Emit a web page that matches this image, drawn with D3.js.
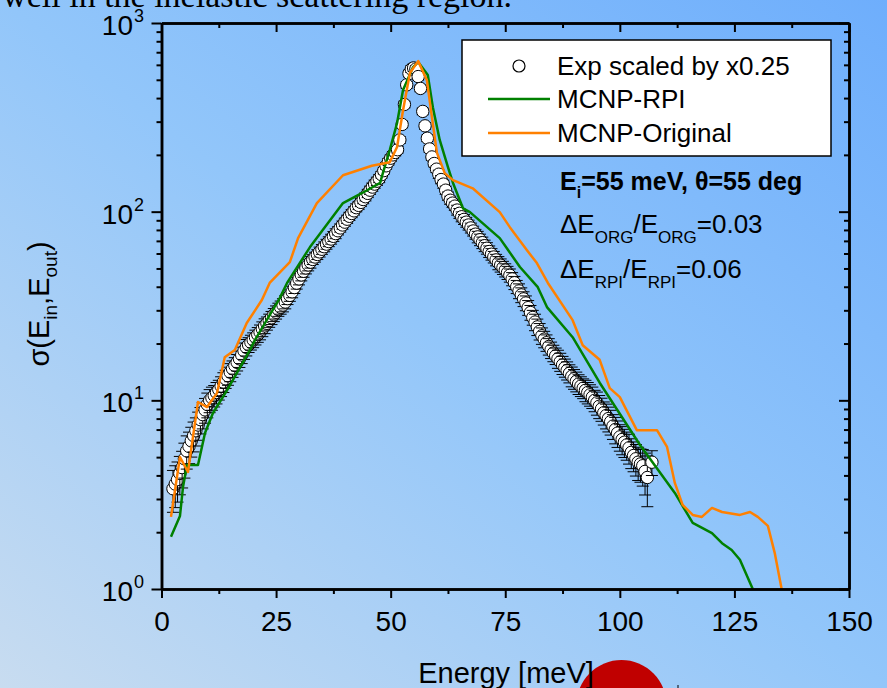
<!DOCTYPE html>
<html><head><meta charset="utf-8">
<script src="https://cdn.jsdelivr.net/npm/d3@7"></script>
<style>body{margin:0;overflow:hidden;background:#fff}</style>
</head><body>
<svg id="c" width="887" height="688"></svg>
<script>
// ---- data ----
const expE = [
 2.5,3,3.5,4,4.5,5,5.5,6,6.5,7,
 7.5,8,8.5,9,9.5,10,10.5,11,11.5,12,
 12.5,13,13.5,14,14.5,15,15.5,16,16.5,17,
 17.5,18,18.5,19,19.5,20,20.5,21,21.5,22,
 22.5,23,23.5,24,24.5,25,25.5,26,26.5,27,
 27.5,28,28.5,29,29.5,30,30.5,31,31.5,32,
 32.5,33,33.5,34,34.5,35,35.5,36,36.5,37,
 37.5,38,38.5,39,39.5,40,40.5,41,41.5,42,
 42.5,43,43.5,44,44.5,45,45.5,46,46.5,47,
 47.5,48,48.5,49,49.5,50,50.5,51,51.5,52,
 52.5,53,53.5,54,54.5,55,55.5,56,56.5,57,
 57.5,58,58.5,59,59.5,60,60.5,61,61.5,62,
 62.5,63,63.5,64,64.5,65,65.5,66,66.5,67,
 67.5,68,68.5,69,69.5,70,70.5,71,71.5,72,
 72.5,73,73.5,74,74.5,75,75.5,76,76.5,77,
 77.5,78,78.5,79,79.5,80,80.5,81,81.5,82,
 82.5,83,83.5,84,84.5,85,85.5,86,86.5,87,
 87.5,88,88.5,89,89.5,90,90.5,91,91.5,92,
 92.5,93,93.5,94,94.5,95,95.5,96,96.5,97,
 97.5,98,98.5,99,99.5,100,100.5,101,101.5,102,
 102.5,103,103.5,104,104.5,105,105.5,106,107];
const expV = [
 3.4,3.6,3.8,4.1,4.4,4.9,5.4,5.7,6.1,6.5,
 6.9,7.4,7.9,8.4,8.9,9.5,10.0,10.3,10.6,11.0,
 11.4,11.9,12.5,13.0,13.5,14.1,14.7,15.3,15.9,16.6,
 17.4,18.3,19.1,19.7,20.3,20.9,21.6,22.3,23.0,23.9,
 24.8,25.6,26.5,27.4,28.4,29.3,30.3,31.1,32.0,33.2,
 34.6,36.0,37.6,39.6,41.8,44.0,46.2,48.3,50.3,52.2,
 54.0,55.8,57.5,59.3,61.2,63.2,65.2,67.3,69.4,71.6,
 74.0,76.5,79.2,82.0,85.0,88.0,91.2,94.5,97.8,101,
 105,108,112,116,120,125,130,135,140,145,
 150,157,165,175,184,192,200,206,213,240,
 290,370,470,540,570,578,570,520,450,340,
 285,245,215,195,180,168,158,148,140,130,
 121,115,111,107,102,98,94,91,88,85,
 82,79,76,73.5,71,68.5,66,64,61.5,59.5,
 57.5,55.5,53.5,52,50.5,49,47.5,46,44,42,
 40,38,36.2,34.5,32.8,31,29.2,27.5,26,24.5,
 23.2,22.0,21.1,20.2,19.3,18.5,17.8,17.2,16.6,16.0,
 15.4,14.9,14.4,13.9,13.4,13.0,12.6,12.2,11.9,11.6,
 11.3,11.0,10.7,10.4,10.0,9.7,9.3,9.0,8.6,8.3,
 8.0,7.7,7.3,7.0,6.7,6.4,6.2,6.0,5.8,5.6,
 5.3,5.1,4.9,4.7,4.6,4.5,4.2,3.9,4.7];
const expErr = [
 .25,.25,.24,.23,.22,.21,.2,.19,.18,.18,
 .17,.17,.16,.16,.15,.15,.14,.14,.13,.13,
 .12,.12,.12,.11,.11,.11,.1,.1,.1,.1,
 .1,.1,.1,.09,.09,.09,.09,.09,.09,.09,
 .09,.08,.08,.08,.08,.08,.08,.08,.08,.08,
 .07,.07,.07,.07,.07,.07,.07,.07,.07,.07,
 .07,.06,.06,.06,.06,.06,.06,.06,.06,.06,
 .06,.06,.05,.05,.05,.05,.05,.05,.05,.05,
 .05,.05,.05,.05,.05,.05,.05,.05,.05,.05,
 .05,.04,.04,.04,.04,.04,.04,.04,.04,.04,
 .04,.04,.04,.04,.04,.04,.04,.04,.04,.04,
 .04,.04,.04,.04,.04,.04,.05,.05,.05,.05,
 .05,.05,.05,.05,.06,.06,.06,.06,.06,.06,
 .06,.06,.06,.07,.07,.07,.07,.07,.07,.07,
 .07,.07,.08,.08,.08,.08,.08,.08,.08,.08,
 .08,.09,.09,.09,.09,.09,.09,.09,.1,.1,
 .1,.1,.1,.1,.1,.1,.1,.1,.11,.11,
 .11,.11,.11,.11,.12,.12,.12,.12,.12,.12,
 .13,.13,.13,.13,.13,.14,.14,.14,.14,.15,
 .15,.15,.15,.16,.16,.16,.17,.17,.17,.18,
 .18,.18,.19,.2,.2,.22,.25,.3,.15];

const rpiE = [2.07,4.03,4.69,5.56,7.96,9.49,11.23,14.29,19.3,20.4,25.8,27.4,32.4,39.6,43.9,47.7,48.3,49.8,51.4,52.7,54.9,56.0,58.1,59.2,60.7,62.5,63.6,65.8,67.3,73.8,78.2,82.1,84.1,89.7,95.6,104.4,112.0,115.9,120.1,122.3,124.4,126.2,129.0];
const rpiV = [1.89,2.44,3.47,4.54,4.54,6.71,8.57,11.3,18.5,20.9,34.8,41.9,64.9,111,126,142,160,212,295,441,584,621,530,358,240,172,142,104,99.5,72.4,50.9,39.8,31.2,21.6,12.4,5.8,3.23,2.24,1.98,1.75,1.61,1.43,1.0];

const orgE = [2.07,4.03,5.78,7.96,9.92,12.1,13.8,16.0,18.6,21.9,23.6,28.0,29.8,33.9,39.6,45.9,49.8,51.4,52.7,54.2,56.0,57.9,59.0,60.1,61.8,63.6,67.9,73.8,76.0,79.7,81.9,84.3,89.7,91.9,95.6,97.8,100.0,103.7,108.1,110.3,112.0,113.7,115.9,117.9,120.1,122.3,126.2,128.4,130.1,132.3,133.8,135.3];
const orgV = [2.41,5.01,4.17,9.8,9.21,10.9,16.9,18.5,25.7,34,41.9,54,72.4,111,156,175,183,220,345,543,628,498,317,205,160,147,133,99.5,82.8,62.6,53.4,41.9,26.6,19.6,16.4,11.6,10.4,6.95,6.95,5.66,3.65,2.79,2.47,2.41,2.69,2.56,2.47,2.56,2.41,2.16,1.55,1.0];

const xMajor = [0,25,50,75,100,125,150];
const xMinor = [12.5,37.5,62.5,87.5,112.5,137.5];
const yMajor = [1,10,100,1000];
const yMinor = [2,3,4,5,6,7,8,9,20,30,40,50,60,70,80,90,200,300,400,500,600,700,800,900];
const legendLabels = ["Exp scaled by x0.25","MCNP-RPI","MCNP-Original"];
const seriesColors = {rpi:"#008000", org:"#ff8000"};

// ---- drawing ----
const W = 887, H = 688;
const svg = d3.select("#c");
const FONT = "'Liberation Sans', Arial, sans-serif";
const defs = svg.append("defs");
const grad = defs.append("linearGradient").attr("id","bg")
  .attr("x1","0").attr("y1","1").attr("x2","1").attr("y2","0");
grad.append("stop").attr("offset","0").attr("stop-color","#c8dcf0");
grad.append("stop").attr("offset","0.5").attr("stop-color","#92c6fa");
grad.append("stop").attr("offset","1").attr("stop-color","#6eaefc");
svg.append("rect").attr("width",W).attr("height",H).attr("fill","url(#bg)");

// cut-off text at top
svg.append("text").attr("x",512).attr("y",7).attr("text-anchor","end")
  .attr("font-family","'Liberation Serif', 'Times New Roman', serif").attr("font-size",34)
  .attr("fill","#000").text("well in the inelastic scattering region.");

const x = d3.scaleLinear().domain([0,150]).range([161.5,849]);
const y = d3.scaleLog().domain([1,1000]).range([589,23]);

defs.append("clipPath").attr("id","plot").append("rect")
  .attr("x",x(0)).attr("y",y(1000)).attr("width",x(150)-x(0)).attr("height",y(1)-y(1000));

const plot = svg.append("g").attr("clip-path","url(#plot)");

// experimental points with error bars (interleaved)
const expG = plot.append("g");
expE.forEach((e,i)=>{
  const v = expV[i], er = expErr[i];
  const cx = x(e), y0 = y(v*(1-er)), y1 = y(v*(1+er));
  const pg = expG.append("g").attr("stroke","#000").attr("stroke-width",1);
  pg.append("line").attr("x1",cx).attr("x2",cx).attr("y1",y0).attr("y2",y1);
  pg.append("line").attr("x1",cx-6).attr("x2",cx+6).attr("y1",y0).attr("y2",y0);
  pg.append("line").attr("x1",cx-6).attr("x2",cx+6).attr("y1",y1).attr("y2",y1);
  pg.append("circle").attr("cx",cx).attr("cy",y(v)).attr("r",6.2)
    .attr("fill","#fff").attr("stroke","#000").attr("stroke-width",1);
});

const line = d3.line().x(d=>x(d[0])).y(d=>y(d[1]));
plot.append("path").datum(rpiE.map((e,i)=>[e,rpiV[i]])).attr("d",line)
  .attr("fill","none").attr("stroke",seriesColors.rpi).attr("stroke-width",2.5).attr("stroke-linejoin","round");
plot.append("path").datum(orgE.map((e,i)=>[e,orgV[i]])).attr("d",line)
  .attr("fill","none").attr("stroke",seriesColors.org).attr("stroke-width",2.5).attr("stroke-linejoin","round");

// axes
function styleAxis(g){
  g.select(".domain").attr("stroke","#000").attr("stroke-width",2.5);
  g.selectAll(".tick line").attr("stroke","#000").attr("stroke-width",2);
  g.selectAll("text").attr("font-family",FONT).attr("font-size",28).attr("fill","#000");
}
svg.append("g").attr("transform",`translate(0,${y(1)})`)
  .call(d3.axisBottom(x).tickValues(xMinor).tickSize(5).tickSizeOuter(0).tickFormat(""))
  .call(styleAxis);
svg.append("g").attr("transform",`translate(0,${y(1)})`)
  .call(d3.axisBottom(x).tickValues(xMajor).tickSize(9).tickSizeOuter(0).tickPadding(13).tickFormat(d3.format("d")))
  .call(styleAxis);
svg.append("g").attr("transform",`translate(0,${y(1000)})`)
  .call(d3.axisBottom(x).tickValues(xMinor).tickSize(5).tickSizeOuter(0).tickFormat(""))
  .call(styleAxis);
svg.append("g").attr("transform",`translate(0,${y(1000)})`)
  .call(d3.axisBottom(x).tickValues(xMajor).tickSize(9).tickSizeOuter(0).tickFormat(""))
  .call(styleAxis);
svg.append("g").attr("transform",`translate(${x(0)},0)`)
  .call(d3.axisLeft(y).tickValues(yMinor).tickSize(5).tickSizeOuter(0).tickFormat(""))
  .call(styleAxis);
svg.append("g").attr("transform",`translate(${x(0)},0)`)
  .call(d3.axisLeft(y).tickValues(yMajor).tickSize(10).tickSizeOuter(0).tickFormat(""))
  .call(styleAxis);
svg.append("g").attr("transform",`translate(${x(150)},0)`)
  .call(d3.axisLeft(y).tickValues(yMinor).tickSize(5).tickSizeOuter(0).tickFormat(""))
  .call(styleAxis);
svg.append("g").attr("transform",`translate(${x(150)},0)`)
  .call(d3.axisLeft(y).tickValues(yMajor).tickSize(10).tickSizeOuter(0).tickFormat(""))
  .call(styleAxis);

// y tick labels 10^n
const yl = svg.append("g").attr("font-family",FONT).attr("fill","#000");
yMajor.forEach(v=>{
  const yy = y(v);
  yl.append("text").attr("x",133).attr("y",yy+12).attr("text-anchor","end").attr("font-size",28).text("10");
  yl.append("text").attr("x",134).attr("y",yy-1).attr("font-size",18).text(String(Math.round(Math.log10(v))));
});

// legend
const lg = svg.append("g").attr("font-family",FONT);
lg.append("rect").attr("x",462).attr("y",40).attr("width",369).attr("height",116)
  .attr("fill","#fff").attr("stroke","#000").attr("stroke-width",1.5);
lg.append("circle").attr("cx",519).attr("cy",66).attr("r",6).attr("fill","#fff").attr("stroke","#000").attr("stroke-width",1.2);
lg.append("line").attr("x1",488).attr("x2",550).attr("y1",99).attr("y2",99).attr("stroke",seriesColors.rpi).attr("stroke-width",2.5);
lg.append("line").attr("x1",488).attr("x2",550).attr("y1",133).attr("y2",133).attr("stroke",seriesColors.org).attr("stroke-width",2.5);
[75,108,142].forEach((by,i)=>{
  lg.append("text").attr("x",557).attr("y",by).attr("font-size",26).attr("fill","#000").text(legendLabels[i]);
});

// annotations
const an = svg.append("g").attr("font-family",FONT).attr("fill","#000");
const t1 = an.append("text").attr("x",560).attr("y",190).attr("font-size",25).attr("font-weight","bold");
t1.append("tspan").text("E");
t1.append("tspan").attr("font-size",16).attr("dy",8).text("i");
t1.append("tspan").attr("dy",-8).text("=55 meV, θ=55 deg");
function ratio(yb, sub, val){
  const t = an.append("text").attr("x",560).attr("y",yb).attr("font-size",26);
  t.append("tspan").text("ΔE");
  t.append("tspan").attr("font-size",17).attr("dy",10).text(sub);
  t.append("tspan").attr("dy",-10).text("/E");
  t.append("tspan").attr("font-size",17).attr("dy",10).text(sub);
  t.append("tspan").attr("dy",-10).text("="+val);
}
ratio(233,"ORG","0.03");
ratio(278,"RPI","0.06");

// red circle decoration
svg.append("circle").attr("cx",621.5).attr("cy",705).attr("r",45).attr("fill","#c00000");
svg.append("line").attr("x1",678).attr("x2",678).attr("y1",685).attr("y2",688).attr("stroke","#000").attr("stroke-width",1);

// axis titles
svg.append("text").attr("x",506).attr("y",683).attr("text-anchor","middle")
  .attr("font-family",FONT).attr("font-size",29).attr("fill","#000").text("Energy [meV]");
const yt = svg.append("text").attr("transform","translate(49,304) rotate(-90)").attr("text-anchor","middle")
  .attr("font-family",FONT).attr("font-size",29).attr("fill","#000");
yt.append("tspan").text("σ(E");
yt.append("tspan").attr("font-size",19).attr("dy",8).text("in");
yt.append("tspan").attr("dy",-8).text(",E");
yt.append("tspan").attr("font-size",19).attr("dy",8).text("out");
yt.append("tspan").attr("dy",-8).text(")");
</script>
</body></html>
